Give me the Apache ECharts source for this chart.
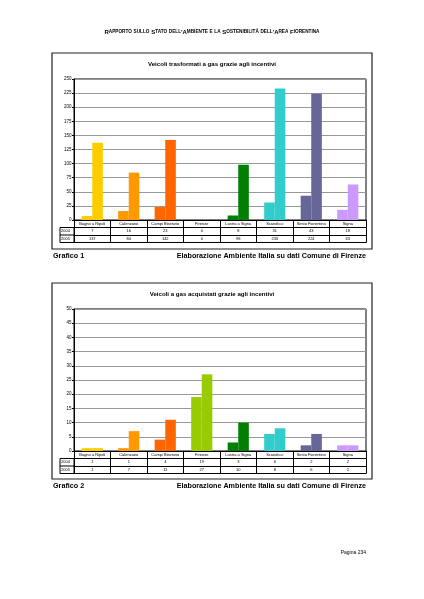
<!DOCTYPE html>
<html>
<head>
<meta charset="utf-8">
<script src="https://cdn.jsdelivr.net/npm/echarts@6/dist/echarts.min.js"></script>
<style>
html,body{margin:0;padding:0;background:#fff;}
#main{width:424px;height:599px;}
</style>
</head>
<body>
<div id="main"></div>
<script>
/* dati */
let comuni = ['Bagno a Ripoli', 'Calenzano', 'Campi Bisenzio', 'Firenze', 'Lastra a Signa', 'Scandicci', 'Sesto Fiorentino', 'Signa'];
let colori = ['#FFCC00', '#FF9900', '#FF6600', '#99CC00', '#008000', '#33CCCC', '#666699', '#CC99FF'];
let anni = ['2004', '2005'];

// grafico 1 - veicoli trasformati
let trasf2004 = [7, 16, 23, 0, 8, 31, 43, 18];
let trasf2005 = [137, 84, 142, 0, 98, 233, 224, 63];
let trasfMax = 250, trasfStep = 25;

// grafico 2 - veicoli acquistati
let acq2004 = [1, 1, 4, 19, 3, 6, 2, 2];
let acq2005 = [1, 7, 11, 27, 10, 8, 6, 2];
let acqMax = 50, acqStep = 5;

/* impaginazione */
let F = 'Liberation Sans, Arial, sans-serif';
let rowH = 7.5;
let gLeft = 74, gRight = 366;
let griglie = [{top: 79, bottom: 220, boxTop: 53}, {top: 309, bottom: 451, boxTop: 283}];
let titoli = ['Veicoli trasformati a gas grazie agli incentivi', 'Veicoli a gas acquistati grazie agli incentivi'];

// assi x che fanno da tabella sotto il grafico
function assiTabella(g, v04, v05) {
  let label = {show: true, interval: 0, fontSize: 4, fontFamily: F, color: '#000', margin: 1.8};
  let base = {
    gridIndex: g, type: 'category', data: comuni, position: 'bottom', boundaryGap: true,
    axisLine: {show: true, lineStyle: {color: '#000', width: 1}},
    axisTick: {show: true, interval: 0, length: rowH, lineStyle: {color: '#000', width: 1}},
    splitLine: {show: false}
  };
  return [
    Object.assign({}, base, {offset: 0, axisLabel: label}),
    Object.assign({}, base, {offset: rowH, axisLabel: Object.assign({}, label, {formatter: (v, i) => String(v04[i])})}),
    Object.assign({}, base, {offset: 2 * rowH, axisLabel: Object.assign({}, label, {formatter: (v, i) => String(v05[i])})}),
    Object.assign({}, base, {offset: 3 * rowH, axisTick: {show: false}, axisLabel: {show: false}})
  ];
}

function assey(g, max, step) {
  return {
    gridIndex: g, type: 'value', min: 0, max: max, interval: step,
    axisLine: {show: true, lineStyle: {color: '#000'}},
    axisTick: {show: true, length: 2, lineStyle: {color: '#000'}},
    axisLabel: {fontSize: 4.5, fontFamily: F, color: '#000', margin: 2.5},
    splitLine: {show: true, lineStyle: {color: '#999', width: 1}}
  };
}

function serie(xi, yi, dati, nome) {
  return {
    type: 'bar', name: nome, xAxisIndex: xi, yAxisIndex: yi, data: dati,
    barGap: '0%', barCategoryGap: '42%',
    itemStyle: {color: p => colori[p.dataIndex]},
    silent: true
  };
}

// intestazione in maiuscoletto
function maiuscoletto(s) {
  let out = '', run = '', tipo = null;
  for (let ch of s) {
    let t = (ch !== ch.toUpperCase()) ? 'l' : 'u';
    if (t !== tipo && run) { out += '{' + tipo + '|' + run + '}'; run = ''; }
    tipo = t;
    run += ch.toUpperCase();
  }
  if (run) out += '{' + tipo + '|' + run + '}';
  return out;
}

let grafica = [];
griglie.forEach((g, i) => {
  // cornice del grafico
  grafica.push({type: 'rect', shape: {x: 52, y: g.boxTop, width: 320, height: 196}, style: {fill: 'none', stroke: '#222', lineWidth: 1.2}});
  grafica.push({type: 'text', x: 212, y: g.boxTop + 11, style: {text: titoli[i], fontSize: 6.1, fontWeight: 'bold', fontFamily: F, fill: '#000', align: 'center', verticalAlign: 'middle', textAlign: 'center', textVerticalAlign: 'middle'}});
  // colonna con gli anni
  grafica.push({type: 'rect', shape: {x: gLeft - 14, y: g.bottom + rowH, width: 14, height: 2 * rowH}, style: {fill: 'none', stroke: '#000', lineWidth: 1}});
  grafica.push({type: 'line', shape: {x1: gLeft - 14, y1: g.bottom + 2 * rowH, x2: gLeft, y2: g.bottom + 2 * rowH}, style: {stroke: '#000', lineWidth: 1}});
  anni.forEach((a, k) => {
    grafica.push({type: 'text', x: gLeft - 13, y: g.bottom + (k + 1.5) * rowH, style: {text: a, fontSize: 4, fontFamily: F, fill: '#000', align: 'left', verticalAlign: 'middle', textAlign: 'left', textVerticalAlign: 'middle'}});
  });
  // didascalie
  grafica.push({type: 'text', x: 53, y: g.boxTop + 203, style: {text: 'Grafico ' + (i + 1), fontSize: 7.2, fontWeight: 'bold', fontFamily: F, fill: '#000', align: 'left', verticalAlign: 'middle', textAlign: 'left', textVerticalAlign: 'middle'}});
  grafica.push({type: 'text', x: 366, y: g.boxTop + 203, style: {text: 'Elaborazione Ambiente Italia su dati Comune di Firenze', fontSize: 7.2, fontWeight: 'bold', fontFamily: F, fill: '#000', align: 'right', verticalAlign: 'middle', textAlign: 'right', textVerticalAlign: 'middle'}});
});
grafica.push({type: 'text', x: 366, y: 553, style: {text: 'Pagina 234', fontSize: 5, fontFamily: F, fill: '#000', align: 'right', verticalAlign: 'middle', textAlign: 'right', textVerticalAlign: 'middle'}});

let myChart = echarts.init(document.getElementById('main'), null, {renderer: 'canvas'});
let option = {
  animation: false,
  title: {
    text: maiuscoletto("Rapporto sullo Stato dell'Ambiente e la Sostenibilità dell'Area Fiorentina"),
    left: 'center', top: 29, padding: 0,
    textStyle: {rich: {
      u: {fontSize: 6, fontFamily: F, color: '#000'},
      l: {fontSize: 4.7, fontFamily: F, color: '#000'}
    }}
  },
  grid: griglie.map(g => ({
    left: gLeft, right: 424 - gRight, top: g.top, bottom: 599 - g.bottom,
    show: true, borderColor: '#000', borderWidth: 1, backgroundColor: 'transparent'
  })),
  xAxis: assiTabella(0, trasf2004, trasf2005).concat(assiTabella(1, acq2004, acq2005)),
  yAxis: [assey(0, trasfMax, trasfStep), assey(1, acqMax, acqStep)],
  series: [
    serie(0, 0, trasf2004, anni[0]),
    serie(0, 0, trasf2005, anni[1]),
    serie(4, 1, acq2004, anni[0]),
    serie(4, 1, acq2005, anni[1])
  ],
  graphic: grafica
};
myChart.setOption(option);
</script>
</body>
</html>
